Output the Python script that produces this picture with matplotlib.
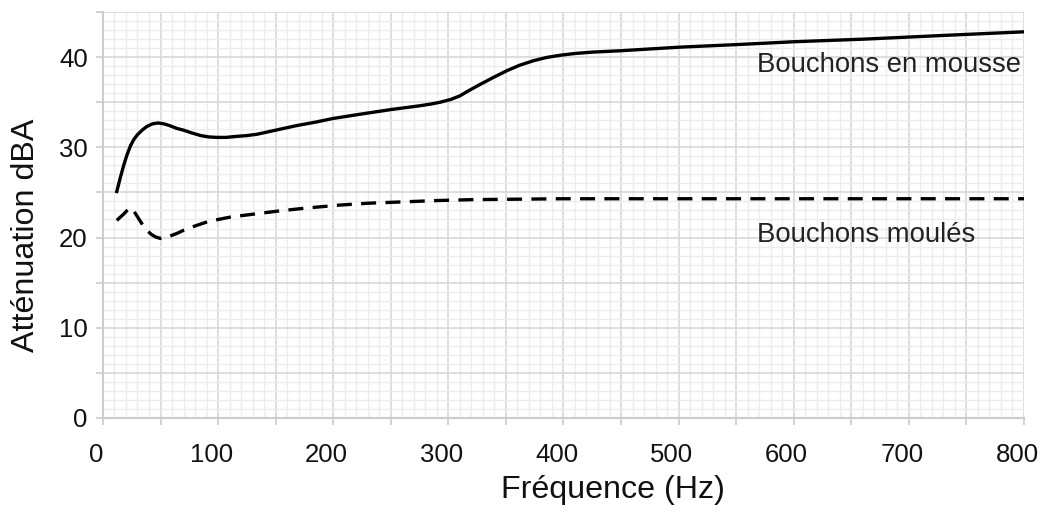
import matplotlib
matplotlib.use("Agg")
import matplotlib.pyplot as plt
from matplotlib.ticker import MultipleLocator, FuncFormatter
from matplotlib.transforms import ScaledTranslation

plt.rcParams['font.family'] = ['Liberation Sans', 'DejaVu Sans']

# valeurs
freq_mousse = [12, 15, 18, 21, 24, 27, 30, 34, 38, 43, 48, 53, 58, 64, 70, 77, 85, 92,
               99, 107, 115, 125, 134, 150, 168, 185, 200, 225, 251, 275, 285, 293,
               302, 310, 318, 328, 340, 351, 362, 374, 385, 397, 410, 425, 449, 475,
               501, 553, 600, 663, 730, 800]
db_mousse = [25.1, 26.6, 28.0, 29.2, 30.2, 30.9, 31.4, 31.9, 32.3, 32.6, 32.7, 32.6,
             32.4, 32.1, 31.9, 31.6, 31.3, 31.15, 31.1, 31.1, 31.2, 31.3, 31.45, 31.9,
             32.4, 32.8, 33.2, 33.7, 34.2, 34.6, 34.8, 35.0, 35.3, 35.7, 36.3, 37.0,
             37.8, 38.5, 39.1, 39.6, 39.95, 40.2, 40.4, 40.55, 40.7, 40.9, 41.1, 41.4,
             41.7, 42.0, 42.4, 42.8]

freq_moules = [12, 15, 18, 21, 24, 27, 30, 33, 36, 39, 42, 46, 50, 55, 60, 65, 70, 77,
               85, 92, 100, 112, 125, 150, 175, 206, 230, 260, 290, 321, 360, 400,
               519, 800]
db_moules = [21.9, 22.25, 22.6, 23.0, 23.3, 22.9, 22.3, 21.7, 21.1, 20.7, 20.35, 20.05,
             19.9, 20.0, 20.25, 20.5, 20.8, 21.15, 21.5, 21.8, 22.0, 22.3, 22.5, 22.9,
             23.25, 23.6, 23.8, 23.95, 24.1, 24.2, 24.25, 24.3, 24.3, 24.3]

fig = plt.figure(figsize=(10.42, 5.14), dpi=100)
ax = fig.add_axes([0.0988, 0.1868, 0.8839, 0.7899])

ax.plot(freq_mousse, db_mousse, color='black', lw=2.4, solid_joinstyle='round')
ax.plot(freq_moules, db_moules, color='black', lw=2.4, dashes=(4.5, 2.8),
        dash_joinstyle='round')

ax.text(568, 38.3, 'Bouchons en mousse', fontsize=19.8, color='#222222',
        va='baseline', ha='left')
ax.text(568, 19.55, 'Bouchons moulés', fontsize=19.8, color='#222222',
        va='baseline', ha='left')

ax.set_xlim(0, 800)
ax.set_ylim(0, 45)

ax.xaxis.set_major_locator(MultipleLocator(50))
ax.xaxis.set_minor_locator(MultipleLocator(10))
ax.yaxis.set_major_locator(MultipleLocator(5))
ax.yaxis.set_minor_locator(MultipleLocator(1))
ax.xaxis.set_major_formatter(FuncFormatter(lambda v, p: f'{int(v)}' if int(v) % 100 == 0 else ''))
ax.yaxis.set_major_formatter(FuncFormatter(lambda v, p: f'{int(v)}' if int(v) % 10 == 0 else ''))

ax.grid(which='major', color='#d8d8d8', lw=1.2)
ax.grid(which='minor', color='#ececec', lw=1.0)
ax.set_axisbelow(True)

for s in ['top', 'right']:
    ax.spines[s].set_visible(False)
for s in ['left', 'bottom']:
    ax.spines[s].set_color('#cccccc')
    ax.spines[s].set_linewidth(1.5)

ax.tick_params(which='major', length=5, width=1.2, color='#cccccc', labelsize=18.5,
               labelcolor='#111111')
ax.tick_params(axis='x', which='major', pad=13)
ax.tick_params(axis='y', which='major', pad=6)
ax.tick_params(which='minor', length=0)

# les étiquettes de l'axe x sont un peu décalées vers la gauche
shift = ScaledTranslation(-7 / 100, 0, fig.dpi_scale_trans)
for lab in ax.get_xticklabels():
    lab.set_transform(lab.get_transform() + shift)

ax.set_xlabel('Fréquence (Hz)', fontsize=23.2, color='#111111', labelpad=6)
ax.set_ylabel('Atténuation dBA', fontsize=23.2, color='#111111', labelpad=13)
ax.xaxis.label.set_x(0.554)
ax.yaxis.label.set_y(0.451)

fig.savefig('out.png', dpi=100)
